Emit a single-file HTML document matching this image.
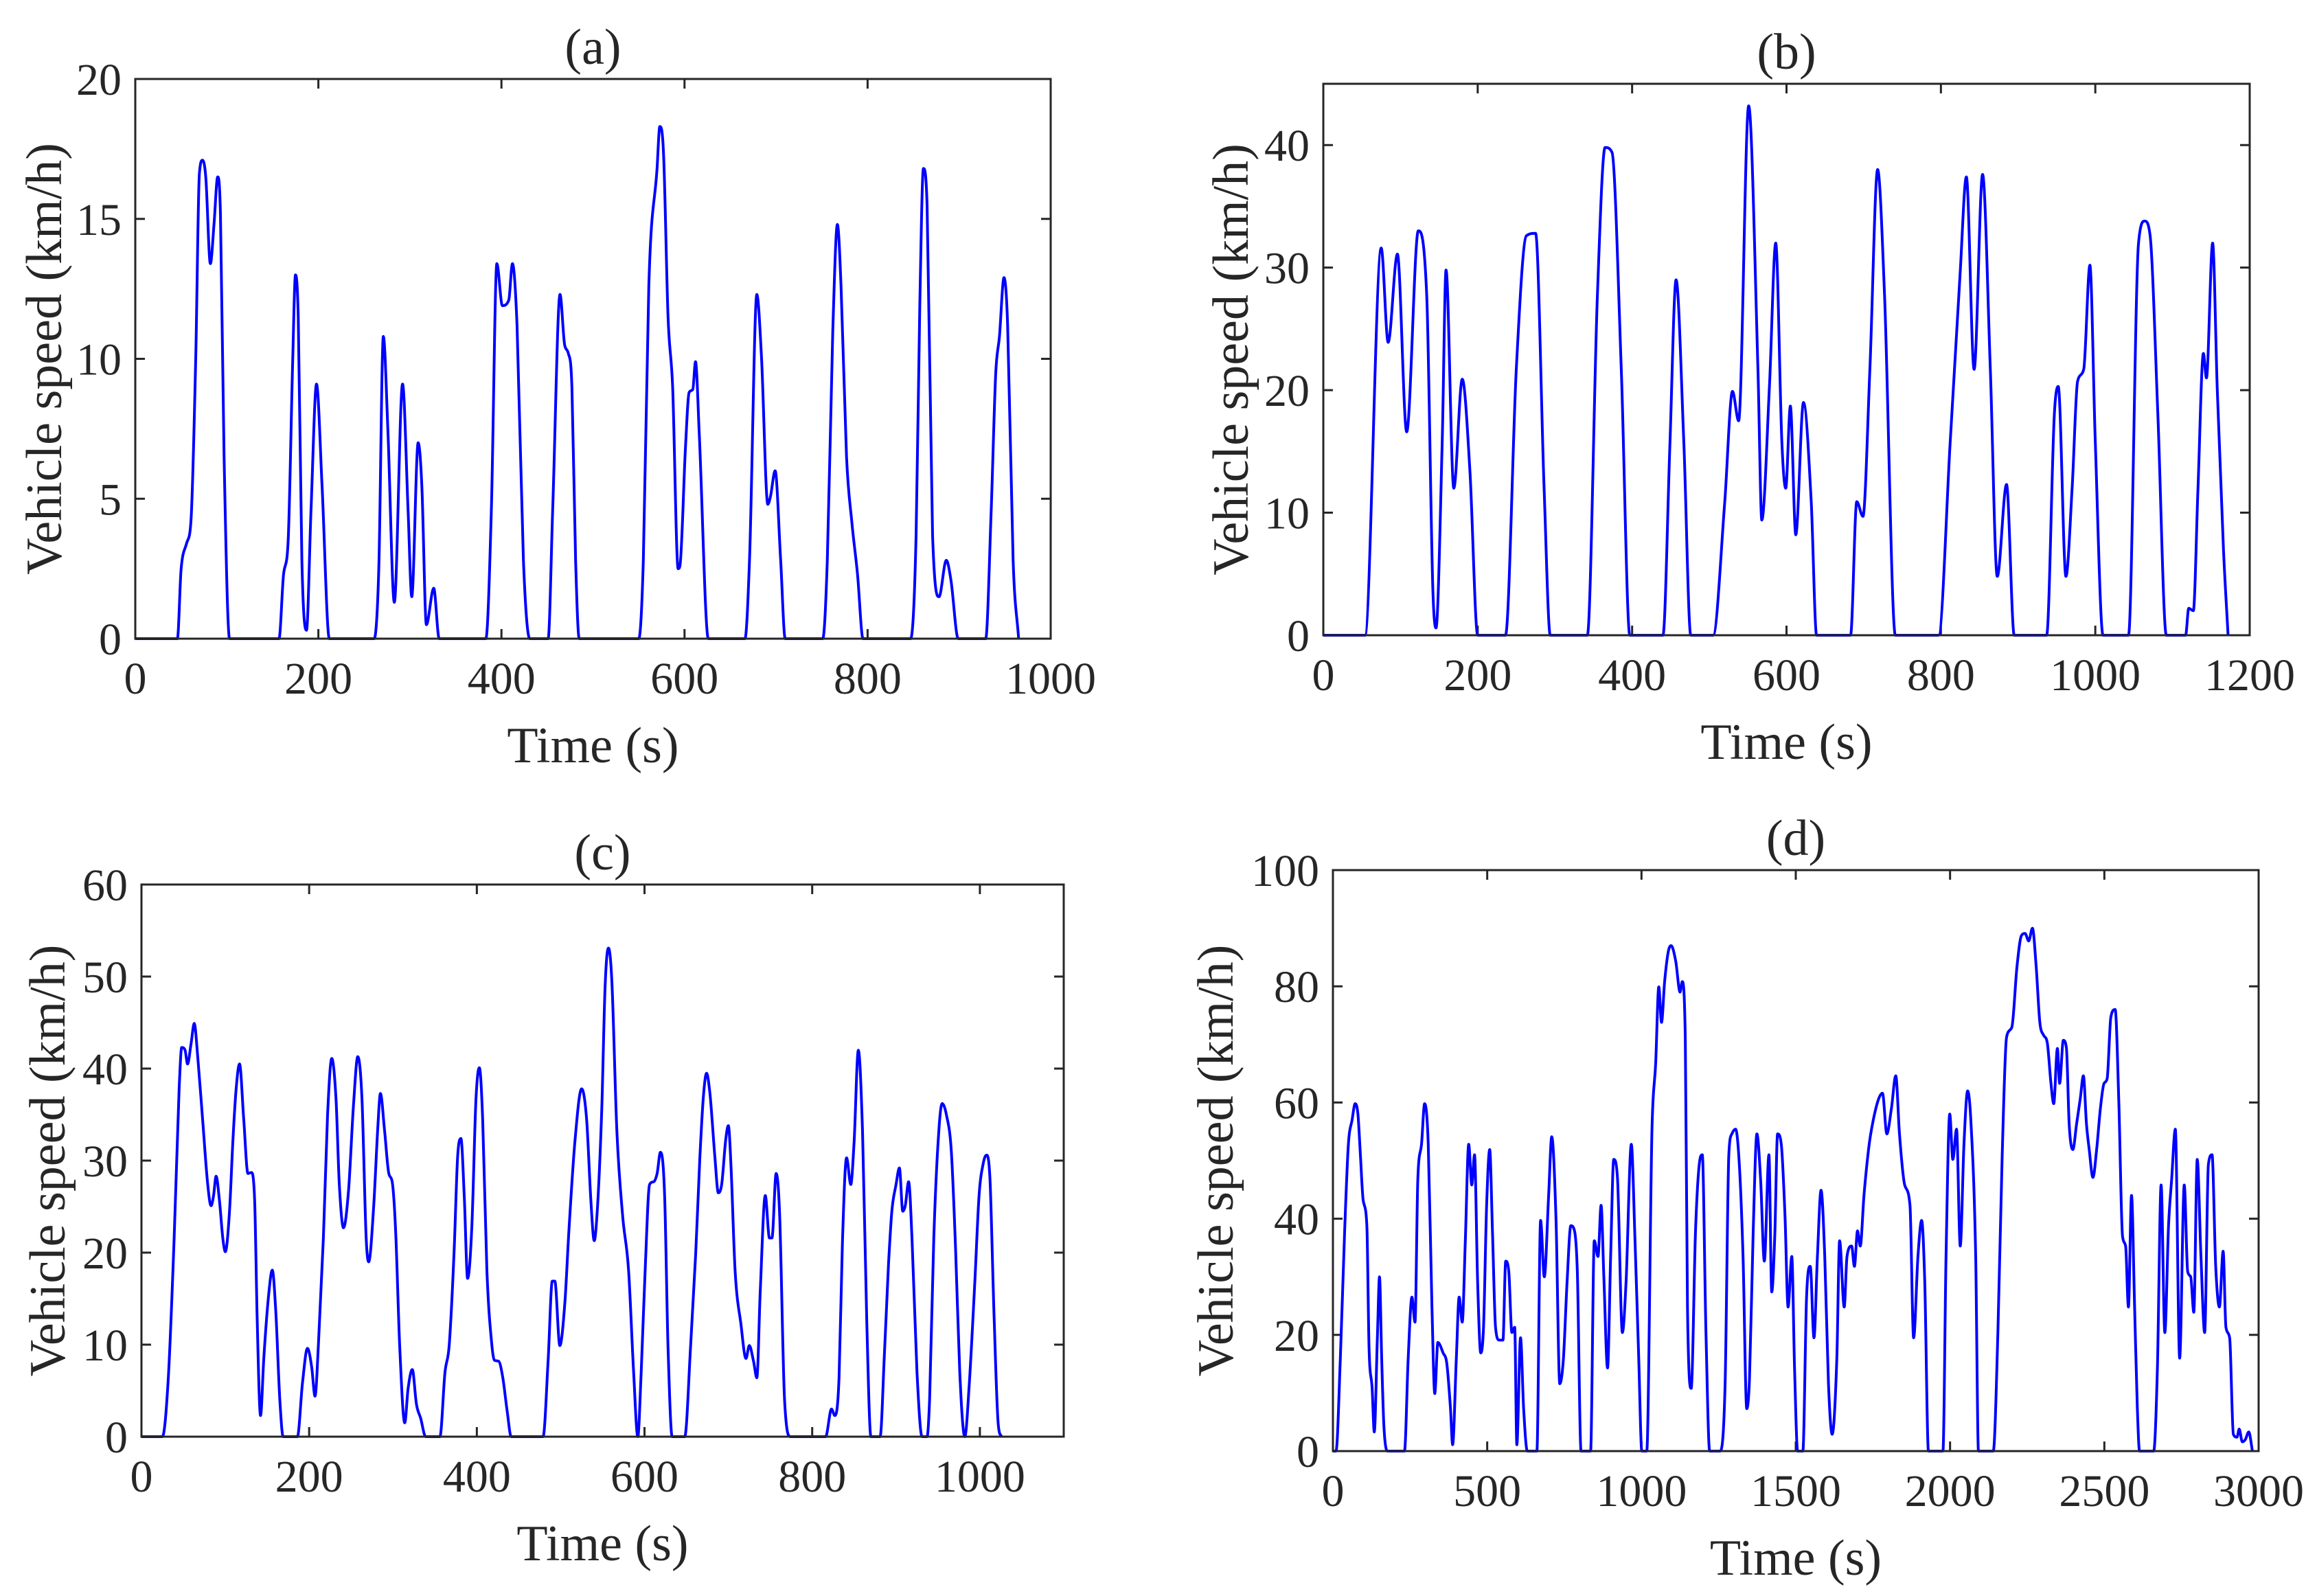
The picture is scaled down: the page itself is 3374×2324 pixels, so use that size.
<!DOCTYPE html>
<html><head><meta charset="utf-8">
<style>
html,body{margin:0;padding:0;background:#fff;}
svg{display:block;}
text{font-family:"Liberation Serif",serif;fill:#262626;}
</style></head>
<body>
<svg id="fig" width="3374" height="2324" viewBox="0 0 3374 2324" xmlns="http://www.w3.org/2000/svg"></svg>
<script>
// Panel (a) data: time (s) and speed (km/h)
const timeA=[0,46,50,56,61,66,70,73.5,77,82,86,90,93,97,103,157,162,167,172,175,178,182,187,192,198,204,212,261,266,271,276,283,292,298,302,309,313,318,326,332,383,389,395,401,408,412,417,424,431,451,456,464,469,473,477,481,485,550,555,561,570,573,577,582,587,593,595,601,605,609,612,616,626,666,671,679,684,691,694,699,705,710,751,756,762,767,771,777,783,789,795,847,853,857,861,865,871,878,886,891,899,929,935,940,944,949,953,959,965];
const speedA=[0,0,2.45,3.4,4.3,10,16.6,17.1,16.5,13.4,14.8,16.5,15.2,6.5,0,0,2.3,3.5,10,13,11.5,2.8,0.3,4.6,9.1,5.5,0,0,2.5,10.8,7.4,1.3,9.1,4.6,1.5,7,5.5,0.5,1.8,0,0,4.6,13.4,11.9,12.1,13.4,11.2,2.8,0,0,4.6,12.3,10.5,10.2,9,2.8,0,0,2.8,12.6,16.8,18.3,17.4,11.5,9,2.5,2.6,6.8,8.8,8.9,9.9,7.4,0,0,2.8,12.3,10.1,4.8,5.1,6,2.8,0,0,2.8,11,14.8,12.6,6.5,4.1,2.3,0,0,3.7,11.9,16.8,15.5,3.7,1.5,2.8,2.1,0,0,4.6,9.5,10.8,12.9,11.2,2.8,0];
// Panel (b)
const timeB=[0,54,75,84,96,108,123,134,142,146,154,159,169,180,190,200,236,250,263,275,286,294,342,355,365,374,386,397,440,449,457,467,476,505,520,530,538,551,563,568,578,586,594,599,605,612,622,632,639,683,691,699,708,718,727,741,797,812,825,833,843,854,864,873,885,895,937,947,952,962,970,977,985,993,1000,1010,1043,1056,1064,1071,1081,1092,1117,1121,1127,1133,1140,1144,1152,1158,1166,1172];
const speedB=[0,0,31.6,23.9,31.1,16.6,33,27.7,3.6,0.6,15.7,29.8,12,20.9,13.3,0,0,21.7,32.6,32.8,12,0,0,27.7,39.8,39.4,21.7,0,0,15.7,29,15.7,0,0,10.9,19.9,17.5,43.2,21.7,9.4,20.5,32,15.7,12,18.7,8.2,19,10.9,0,0,10.9,9.7,21.7,38,27.7,0,0,15.7,29.6,37.4,21.7,37.6,21.7,4.8,12.3,0,0,18.1,20.3,4.8,12,20.7,21.7,30.2,15.7,0,0,32,33.8,32.6,18.1,0,0,2.2,2.0,12,23,21,32,20,7,0];
// Panel (c)
const timeC=[0,25,32,39,45,48,52,55,59,63,67,73,79,83,86,89,93,97,100,105,109,113,117,122,127,131,135,138,142,146,152,156,160,165,169,186,192,198,203,207,211,217,222,227,232,236,241,247,253,258,263,268,271,277,282,285,290,295,299,303,308,314,318,323,328,333,339,356,362,367,373,377,381,385,389,394,399,403,407,412,418,421,426,431,436,441,479,485,490,493,499,505,510,517,525,531,536,540,544,549,553,557,561,567,574,581,587,592,596,601,606,611,615,619,624,628,633,648,655,661,666,670,674,678,684,688,692,697,700,703,708,715,721,725,730,734,738,744,749,752,757,761,767,774,816,823,827,832,836,841,846,850,855,860,865,870,881,886,891,895,900,904,908,911,915,919,925,931,937,940,945,951,955,960,966,971,976,982,987,994,999,1004,1008,1012,1017,1022,1026];
const speedC=[0,0,6.4,21.6,37.9,42.3,42,40.5,42.6,44.9,41.4,34.4,27.4,25.1,26.2,28.3,25.7,21.6,20.1,24.5,32.1,37.9,40.5,34.4,28.6,28.7,25.7,12.8,2.3,8.7,15.7,18.1,14,4.1,0,0,5.8,9.6,7.6,4.4,9.9,21.6,35,41.1,36.7,27.4,22.7,26.8,36.2,41.3,36.7,21.6,19,25.1,33.8,37.3,33.2,28.6,27.7,22.7,9.9,1.5,5.2,7.3,3.5,2,0,0,7,9.9,20.4,30.3,32.4,26.2,17.2,22.7,36.7,40.1,34.4,18.1,9.9,8.3,8.2,6.4,2.9,0,0,8.2,16.9,16.9,9.9,14.6,22.7,32.1,37.8,34.4,25.7,21.3,25.1,35.6,49,53.1,49.6,33.2,23.9,18.1,7,0,7,18.7,27.4,27.7,28.6,30.9,26.2,9.9,0,0,9.9,19.8,30.3,36.7,39.5,37.3,30.3,26.5,27.4,32.4,33.8,29.7,18.1,12.2,8.5,9.9,8.2,6.4,15.7,26.2,21.6,21.6,28.6,24.5,4.1,0,0,3,2.3,6.4,21,30.3,27.4,32.1,42,33.2,12.8,0,0,8.7,18.7,24.5,27.4,29.2,24.5,25.1,27.7,21.6,7,0,0,4.1,21.6,33.2,36.2,35,30.9,20.4,7,0,5.2,16.9,26.2,29.7,30.6,28,12.8,1.2,0];
// Panel (d)
const timeD=[0,10,24,38,50,62,72,81,89,98,110,117,127,134,144,151,158,165,177,232,244,256,266,275,287,297,309,321,330,340,357,369,381,388,400,409,419,429,440,450,459,469,479,488,498,508,517,527,539,551,560,570,580,589,596,608,618,630,661,673,685,699,709,723,735,747,759,771,783,792,804,835,847,859,869,878,890,900,910,922,938,950,967,979,991,1001,1017,1034,1046,1056,1065,1075,1087,1096,1111,1125,1132,1142,1149,1161,1175,1187,1197,1209,1221,1254,1271,1283,1293,1305,1317,1329,1341,1350,1362,1374,1386,1398,1413,1422,1432,1441,1453,1465,1475,1487,1496,1506,1523,1535,1547,1559,1570,1582,1594,1606,1618,1633,1642,1657,1666,1681,1690,1700,1709,1721,1738,1752,1769,1781,1795,1810,1824,1836,1853,1870,1882,1896,1908,1918,1930,1977,1987,1999,2009,2021,2033,2045,2057,2068,2083,2092,2140,2155,2169,2183,2200,2217,2231,2243,2255,2267,2279,2291,2303,2315,2327,2336,2348,2355,2367,2377,2386,2398,2410,2422,2432,2442,2451,2463,2475,2487,2499,2509,2521,2535,2547,2559,2569,2578,2588,2598,2607,2614,2660,2672,2684,2696,2708,2718,2730,2744,2759,2770,2780,2790,2801,2813,2825,2837,2849,2861,2873,2885,2894,2906,2918,2930,2937,2947,2957,2968,2980];
const speedD=[0,0,16,38,52.8,57,59.8,58,51,43.2,38.8,17.8,10.8,3.3,19.5,30,16,4.6,0,0,16,26.5,22.2,46.7,52.8,59.8,52.8,24.8,9.9,18.7,16.9,15.1,7.3,1.1,16,26.5,22.2,36.2,52.8,45.8,51,29.2,16.9,21.3,42.3,51.9,37.9,21.3,19.1,19.1,32.7,30.9,20.4,21.3,1.1,19.5,7.3,0,0,39.7,30,44,54.1,39.7,11.6,16,29.2,38.8,37.9,30.9,0,0,36.2,33.5,42.3,30,14.3,33.5,50.2,47.1,20.4,29.2,52.8,36.2,16,0,0,55.4,66.8,79.9,73.8,80.8,86,87,84.3,79,80.8,71.2,24.8,10.8,37.9,49.3,51,20.4,0,0,11.6,51,54.6,55.4,49.3,33.5,7.3,12.5,37.9,54.6,46.7,32.7,51,27.4,37,54.6,52.8,40.5,24.8,33.5,14.3,0,0,26.5,31.8,19.5,33.5,44.9,33.5,11.6,2.9,16,36.2,24.8,33.5,35.3,31.8,37.9,35.3,44,52.8,57.2,60.7,61.6,54.6,59,64.6,54.6,45.8,42.3,19.5,33.5,39.7,29.2,0,0,33.5,58,50.2,55.4,35.3,52.8,62,56.3,33.5,0,0,20.4,51,71.2,72.9,83.5,88.7,89.1,87.8,90,83.5,73.8,71.6,70.3,63.3,59.8,69.3,63.3,70.7,69.4,56.3,51.9,56.3,60.7,64.6,56.3,51.9,47.1,51.9,58.9,63.3,64.1,74.7,76,59.8,37,35.3,24.8,44,24.8,7.3,0,0,14.3,45.8,20.4,38.8,46.7,55.4,16,45.8,30.9,30,23.9,50.2,33.5,20.4,49.3,51,31.8,24.8,34.4,21.3,19.5,2.9,2.4,3.8,1.6,2,3.3,0];

const xTicksA=[0,200,400,600,800,1000], yTicksA=[0,5,10,15,20];
const xTicksB=[0,200,400,600,800,1000,1200], yTicksB=[0,10,20,30,40];
const xTicksC=[0,200,400,600,800,1000], yTicksC=[0,10,20,30,40,50,60];
const xTicksD=[0,500,1000,1500,2000,2500,3000], yTicksD=[0,20,40,60,80,100];

const NS="http://www.w3.org/2000/svg";
const svg=document.getElementById('fig');
function mk(tag,attrs,parent){const e=document.createElementNS(NS,tag);for(const k in attrs)e.setAttribute(k,attrs[k]);(parent||svg).appendChild(e);return e;}

// monotone cubic (Fritsch-Carlson) path through screen points
function smoothPath(X,Y){
  const n=X.length;if(n<2)return '';
  const dx=[],s=[];
  for(let i=0;i<n-1;i++){dx.push(X[i+1]-X[i]);s.push((Y[i+1]-Y[i])/(dx[i]||1e-6));}
  const m=new Array(n);
  m[0]=s[0];m[n-1]=s[n-2];
  for(let i=1;i<n-1;i++){m[i]=(s[i-1]*s[i]<=0)?0:(s[i-1]+s[i])/2;}
  for(let i=0;i<n-1;i++){
    if(s[i]===0){m[i]=0;m[i+1]=0;continue;}
    const a=m[i]/s[i],b=m[i+1]/s[i],h=a*a+b*b;
    if(h>9){const t=3/Math.sqrt(h);m[i]=t*a*s[i];m[i+1]=t*b*s[i];}
  }
  let d='M'+X[0].toFixed(1)+','+Y[0].toFixed(1);
  for(let i=0;i<n-1;i++){
    const h=dx[i]/3;
    d+='C'+(X[i]+h).toFixed(1)+','+(Y[i]+m[i]*h).toFixed(1)+' '+(X[i+1]-h).toFixed(1)+','+(Y[i+1]-m[i+1]*h).toFixed(1)+' '+X[i+1].toFixed(1)+','+Y[i+1].toFixed(1);
  }
  return d;
}

const panels=[
 {id:'a',L:197,R:1530,T:115,B:930,xmax:1000,ymax:20,xt:xTicksA,yt:yTicksA,t:timeA,v:speedA,ylOff:132},
 {id:'b',L:1927,R:3276,T:122,B:925,xmax:1200,ymax:45,xt:xTicksB,yt:yTicksB,t:timeB,v:speedB,ylOff:134},
 {id:'c',L:206,R:1549,T:1288,B:2092,xmax:1100,ymax:60,xt:xTicksC,yt:yTicksC,t:timeC,v:speedC,ylOff:136},
 {id:'d',L:1941,R:3289,T:1267,B:2113,xmax:3000,ymax:100,xt:xTicksD,yt:yTicksD,t:timeD,v:speedD,ylOff:170}
];

panels.forEach(p=>{
  const g=mk('g',{});
  
  
  const xs=x=>p.L+(x/p.xmax)*(p.R-p.L);
  const ys=y=>p.B-(y/p.ymax)*(p.B-p.T);
  p.xt.forEach(t=>{
    const x=xs(t);
    const tk=mk('path',{d:`M${x},${p.B}v-14M${x},${p.T}v14`,stroke:'#262626','stroke-width':3,fill:'none'},g);
    
    
    const lb=mk('text',{x:x,y:p.B+80,'font-size':66,'text-anchor':'middle'},g);
    lb.textContent=t;
    
    
  });
  p.yt.forEach(t=>{
    const y=ys(t);
    const tk=mk('path',{d:`M${p.L},${y}h14M${p.R},${y}h-14`,stroke:'#262626','stroke-width':3,fill:'none'},g);
    
    
    const lb=mk('text',{x:p.L-20,y:y+23,'font-size':66,'text-anchor':'end'},g);
    lb.textContent=t;
    
    
  });
  const X=p.t.map(xs), Y=p.v.map(ys);
  const ln=mk('path',{d:smoothPath(X,Y),stroke:'#0000ff','stroke-width':4,fill:'none','stroke-linejoin':'round'},g);
  
  
  const fr=mk('rect',{x:p.L,y:p.T,width:p.R-p.L,height:p.B-p.T,fill:'none',stroke:'#262626','stroke-width':3},g);
  
  
  const xl=mk('text',{x:(p.L+p.R)/2,y:p.B+180,'font-size':74,'text-anchor':'middle'},g);
  xl.textContent='Time (s)';
  
  
  const cy=(p.T+p.B)/2, cx=p.L-p.ylOff;
  const yl=mk('text',{x:cx,y:cy,'font-size':74,'text-anchor':'middle','dominant-baseline':'central',transform:`rotate(-90 ${cx} ${cy})`},g);
  yl.textContent='Vehicle speed (km/h)';
  
  
  const ti=mk('text',{x:(p.L+p.R)/2,y:p.T-22,'font-size':74,'text-anchor':'middle'},g);
  ti.textContent='('+p.id+')';
  
  
});
</script>
</body></html>
